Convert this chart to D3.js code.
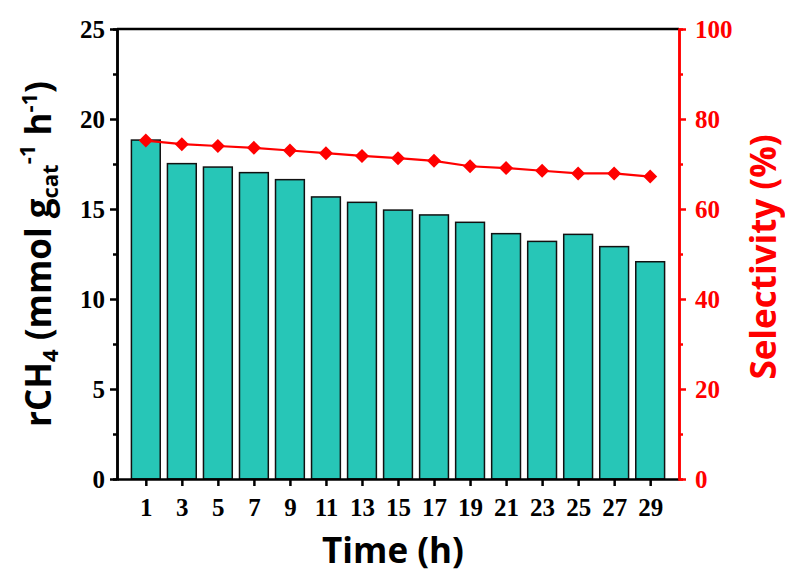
<!DOCTYPE html>
<html>
<head>
<meta charset="utf-8">
<script src="https://cdn.jsdelivr.net/npm/d3@7"></script>
<style>
  body { margin: 0; background: #fff; }
  .tick text { font-family: "Liberation Serif", "Times New Roman", serif; font-weight: bold; font-size: 25px; }
  .title { font-family: "Open Sans", sans-serif; font-weight: bold; }
</style>
</head>
<body>
<svg class="chart"></svg>
<script>
// data
const times = [1, 3, 5, 7, 9, 11, 13, 15, 17, 19, 21, 23, 25, 27, 29];
const rateCH4 = [18.83, 17.52, 17.33, 17.02, 16.63, 15.67, 15.37, 14.94, 14.67, 14.26, 13.63, 13.2, 13.59, 12.91, 12.07];
const selectivity = [75.2, 74.4, 74.0, 73.6, 73.0, 72.4, 71.8, 71.3, 70.7, 69.5, 69.1, 68.5, 67.9, 67.9, 67.2];
const leftTicks = [0, 5, 10, 15, 20, 25];
const rightTicks = [0, 20, 40, 60, 80, 100];

const canvas = {width: 785, height: 572};
const plot = {left: 117, right: 679, top: 29, bottom: 479};

const svg = d3.select(".chart")
    .attr("width", canvas.width)
    .attr("height", canvas.height);

const x = d3.scaleLinear().domain([-0.6, 30.6]).range([plot.left, plot.right]);
const yLeft = d3.scaleLinear().domain([0, 25]).range([plot.bottom, plot.top]);
const yRight = d3.scaleLinear().domain([0, 100]).range([plot.bottom, plot.top]);
const barW = x(1.6) - x(0);

// bars
svg.append("g").selectAll("rect")
    .data(times)
    .enter()
    .append("rect")
    .attr("x", (d) => x(d) - barW / 2)
    .attr("width", barW)
    .attr("y", (d, i) => yLeft(rateCH4[i]))
    .attr("height", (d, i) => plot.bottom - yLeft(rateCH4[i]))
    .attr("fill", "#27c6b7")
    .attr("stroke", "#111")
    .attr("stroke-width", 1.5);

// selectivity line
const line = d3.line()
    .x((d) => x(d))
    .y((d, i) => yRight(selectivity[i]));
svg.append("path")
    .datum(times)
    .attr("d", line)
    .attr("fill", "none")
    .attr("stroke", "#ff0000")
    .attr("stroke-width", 2.2);
svg.append("g").selectAll("path")
    .data(times)
    .enter()
    .append("path")
    .attr("d", d3.symbol().type(d3.symbolDiamond2).size(125))
    .attr("transform", (d, i) => "translate(" + x(d) + "," + yRight(selectivity[i]) + ")")
    .attr("fill", "#ff0000");

// axes
function styleAxis(g, color) {
    g.select(".domain").attr("stroke", color).attr("stroke-width", 2.5);
    g.selectAll(".tick line").attr("stroke", color).attr("stroke-width", 2.5);
    g.selectAll(".tick text").attr("fill", color);
}

const leftMinor = svg.append("g")
    .attr("transform", "translate(" + plot.left + ",0)")
    .call(d3.axisLeft(yLeft).tickValues([2.5, 7.5, 12.5, 17.5, 22.5]).tickSize(4).tickFormat(""));
styleAxis(leftMinor, "#000");
const leftAxis = svg.append("g")
    .attr("transform", "translate(" + plot.left + ",0)")
    .call(d3.axisLeft(yLeft).tickValues(leftTicks).tickSize(7).tickSizeOuter(0).tickPadding(5));
styleAxis(leftAxis, "#000");

const bottomAxis = svg.append("g")
    .attr("transform", "translate(0," + plot.bottom + ")")
    .call(d3.axisBottom(x).tickValues(times).tickSize(7).tickSizeOuter(0).tickPadding(12).tickFormat(d3.format("d")));
styleAxis(bottomAxis, "#000");

svg.append("line")
    .attr("x1", plot.left).attr("x2", plot.right)
    .attr("y1", plot.top).attr("y2", plot.top)
    .attr("stroke", "#000").attr("stroke-width", 2.5);

const rightMinor = svg.append("g")
    .attr("transform", "translate(" + plot.right + ",0)")
    .call(d3.axisRight(yRight).tickValues([10, 30, 50, 70, 90]).tickSize(4).tickFormat(""));
styleAxis(rightMinor, "#ff0000");
const rightAxis = svg.append("g")
    .attr("transform", "translate(" + plot.right + ",0)")
    .call(d3.axisRight(yRight).tickValues(rightTicks).tickSize(7).tickSizeOuter(0).tickPadding(9));
styleAxis(rightAxis, "#ff0000");

// titles
svg.append("text")
    .attr("class", "title")
    .attr("x", 393)
    .attr("y", 563)
    .attr("text-anchor", "middle")
    .attr("font-size", 35)
    .text("Time (h)");

const yTitle = svg.append("text")
    .attr("class", "title")
    .attr("transform", "translate(51," + ((plot.top + plot.bottom) / 2) + ") rotate(-90)")
    .attr("text-anchor", "middle")
    .attr("font-size", 35);
yTitle.append("tspan").text("rCH");
yTitle.append("tspan").attr("font-size", 22).attr("dy", 7).text("4");
yTitle.append("tspan").attr("dy", -7).text(" (mmol g");
yTitle.append("tspan").attr("font-size", 22).attr("dy", 7).text("cat");
yTitle.append("tspan").attr("font-size", 22).attr("dy", -23).text("-1");
yTitle.append("tspan").attr("dy", 16).text(" h");
yTitle.append("tspan").attr("font-size", 22).attr("dy", -14).text("-1");
yTitle.append("tspan").attr("dy", 14).text(")");

svg.append("text")
    .attr("class", "title")
    .attr("transform", "translate(776," + ((plot.top + plot.bottom) / 2 + 3) + ") rotate(-90)")
    .attr("text-anchor", "middle")
    .attr("font-size", 35)
    .attr("fill", "#ff0000")
    .text("Selectivity (%)");
</script>
</body>
</html>
